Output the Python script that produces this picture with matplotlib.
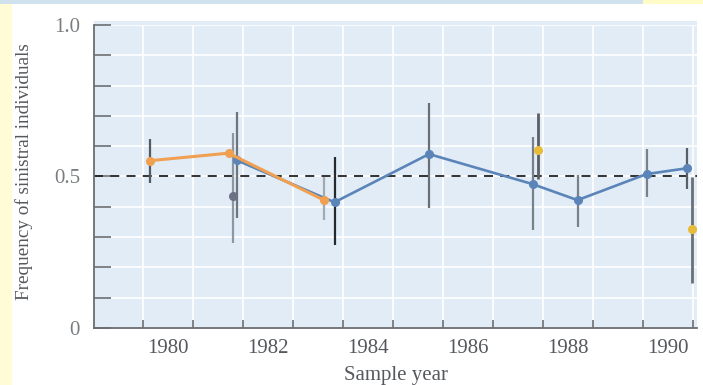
import matplotlib
matplotlib.use("Agg")
import matplotlib.pyplot as plt
import numpy as np
from matplotlib.patches import Rectangle

# ---- data ----
orange_years = [1979.63, 1981.21, 1983.12]
orange_vals = [0.552, 0.577, 0.422]
orange_lo = [0.480, np.nan, 0.356]
orange_hi = [0.623, np.nan, 0.499]
orange_bar_colors = ["#555a60", "#555a60", "#a3a9b0"]

blue_years = [1981.37, 1983.33, 1985.22, 1987.29, 1988.19, 1989.57, 1990.37]
blue_vals = [0.554, 0.415, 0.574, 0.475, 0.422, 0.508, 0.527]
blue_lo = [0.362, 0.274, 0.395, 0.323, 0.334, 0.433, 0.458]
blue_hi = [0.714, 0.565, 0.744, 0.631, 0.505, 0.590, 0.593]
blue_bar_colors = ["#6f757d", "#25282c", "#6a6f76", "#7a8088", "#7a8088", "#7a8088", "#5a5f66"]

yellow_years = [1987.39, 1990.47]
yellow_vals = [0.587, 0.327]
yellow_lo = [0.491, 0.147]
yellow_hi = [0.709, 0.499]

gray_years = [1981.29]
gray_vals = [0.436]
gray_lo = [0.280]
gray_hi = [0.643]

year_labels = [1980, 1982, 1984, 1986, 1988, 1990]
ytick_vals = [0, 0.5, 1.0]
ytick_labels = ["0", "0.5", "1.0"]

# ---- figure ----
fig = plt.figure(figsize=(7.03, 3.85), dpi=100)
fig.patch.set_facecolor("white")
# decorative strips (slide background)
fig.patches.append(Rectangle((0, 0), 12/703, 1 - 4/385, transform=fig.transFigure,
                             facecolor="#fffcd6", edgecolor="none", zorder=0))
fig.patches.append(Rectangle((0, 1 - 4/385), 643/703, 4/385, transform=fig.transFigure,
                             facecolor="#cfe2ee", edgecolor="none", zorder=0))
fig.patches.append(Rectangle((643/703, 1 - 4/385), 60/703, 4/385, transform=fig.transFigure,
                             facecolor="#fffcc8", edgecolor="none", zorder=0))
# plot background panel (slightly taller than the axes)
fig.patches.append(Rectangle((94/703, (385-328)/385), (697-94)/703, (328-21)/385,
                             transform=fig.transFigure, facecolor="#e1ecf7",
                             edgecolor="none", zorder=0))

ax = fig.add_axes([94/703, (385-328)/385, (697-94)/703, (328-25)/385])
ax.set_zorder(2)
ax.set_facecolor("#e1ecf7")
ax.patch.set_alpha(0)
ax.set_xlim(1978.52, 1990.58)
ax.set_ylim(0, 1.0)

for s in ["top", "right"]:
    ax.spines[s].set_visible(False)
for s in ["left", "bottom"]:
    ax.spines[s].set_color("#6a6e73")
    ax.spines[s].set_linewidth(1.3)

# ticks
ax.set_xticks(year_labels)
ax.set_xticklabels([str(y) for y in year_labels])
ax.set_xticks(np.arange(1979.5, 1990.51, 1.0), minor=True)
ax.set_yticks(ytick_vals)
ax.set_yticklabels(ytick_labels)
ax.set_yticks(np.arange(0.1, 1.0, 0.1), minor=True)
ax.tick_params(axis="x", which="major", length=0, pad=8, labelsize=15, labelcolor="#55585c")
ax.tick_params(axis="x", which="minor", direction="in", length=6, width=1.2, color="#6a6e73")
ax.tick_params(axis="y", which="both", direction="in", length=12, width=1.2, color="#6a6e73")
ax.tick_params(axis="y", which="major", pad=10, labelsize=15, labelcolor="#7a7d80")
for lab in ax.get_xticklabels() + ax.get_yticklabels():
    lab.set_family("Liberation Serif")

# white grid
ax.grid(True, which="minor", color="white", linewidth=1.4, alpha=0.85)
ax.grid(False, which="major")
for y in ytick_vals:
    ax.axhline(y, color="white", linewidth=1.4, alpha=0.85, zorder=0.5)
ax.set_axisbelow(True)

# reference line
ax.axhline(0.5, color="#222222", linewidth=1.3, linestyle=(0, (5, 4)), zorder=2)

# error bars
def bars(xs, lo, hi, colors, lw=1.6):
    for x, l, h, c in zip(xs, lo, hi, colors):
        if np.isnan(l):
            continue
        ax.vlines(x, l, h, color=c, linewidth=lw, zorder=3)

bars(orange_years, orange_lo, orange_hi, orange_bar_colors)
bars(blue_years, blue_lo, blue_hi, blue_bar_colors)
bars(yellow_years, yellow_lo, yellow_hi, ["#5a5f66", "#6a6f76"], lw=2.0)
bars(gray_years, gray_lo, gray_hi, ["#8d96a3"])

# series
ax.plot(blue_years, blue_vals, color="#5b84b8", linewidth=1.9, marker="o",
        markersize=5.5, zorder=4)
ax.plot(orange_years, orange_vals, color="#f0a050", linewidth=2.2, marker="o",
        markersize=5.5, zorder=5)
ax.plot(yellow_years, yellow_vals, linestyle="none", color="#e8bb3a", marker="o",
        markersize=5.5, zorder=5)
ax.plot(gray_years, gray_vals, linestyle="none", color="#6b7283", marker="o",
        markersize=5.5, zorder=5)

ax.set_xlabel("Sample year", family="Liberation Serif", fontsize=15, color="#55585c",
              labelpad=6)
ax.set_ylabel("Frequency of sinistral individuals", family="Liberation Serif",
              fontsize=13.8, color="#55585c")
ax.yaxis.set_label_coords(-(94-33)/603, 0.515)

fig.savefig("out.png", dpi=100)
